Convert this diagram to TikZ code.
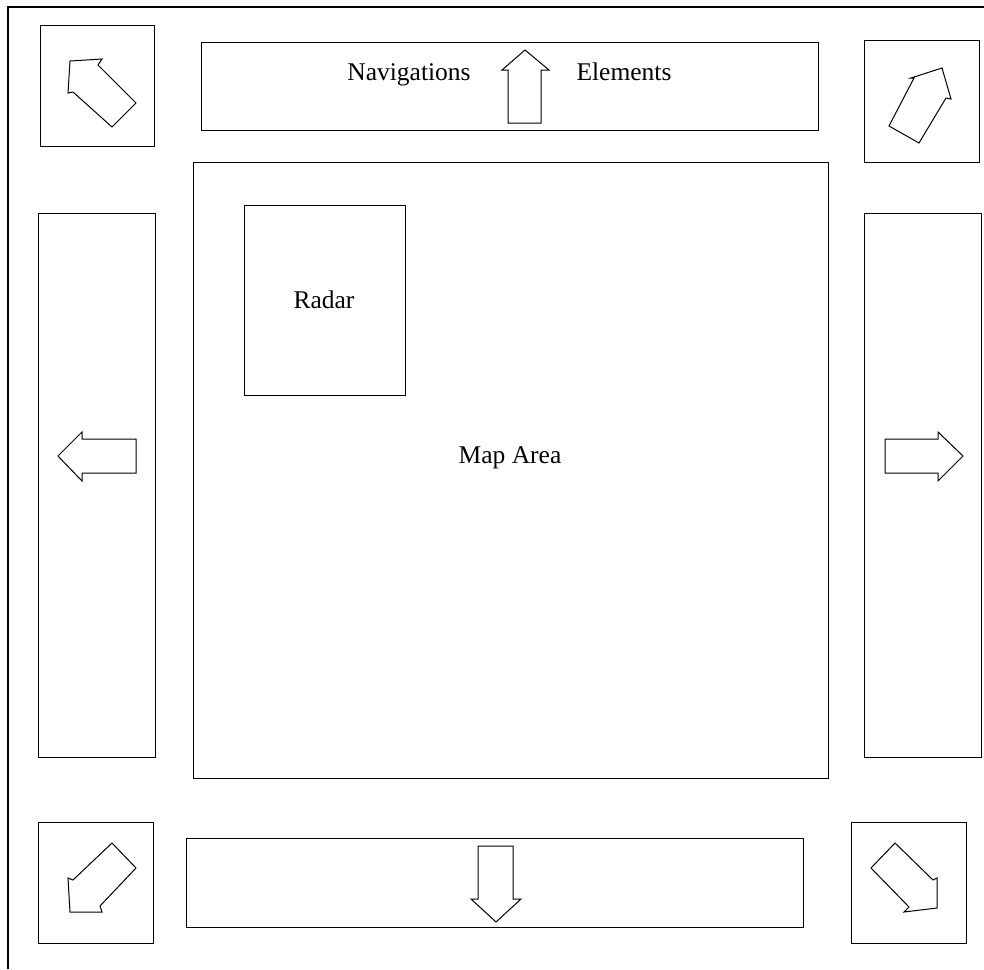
\documentclass[tikz,border=0pt]{standalone}
\usepackage{fontspec}
\setmainfont{Liberation Serif}
\begin{document}
\begin{tikzpicture}[x=1pt,y=-1pt,
  boxnode/.style={draw, line width=1.4pt, inner sep=0pt, anchor=north west, fill=none},
  arrowshape/.style={draw, line width=1pt, line join=miter},
  lbl/.style={font=\fontsize{25.5}{30}\selectfont, inner sep=0pt, anchor=base}]
\useasboundingbox (0,0) rectangle (984,969);
% outer frame (left and top edges visible)
\coordinate (fbl) at (8,969);
\coordinate (ftl) at (8,7);
\coordinate (ftr) at (984,7);
\draw[line width=1.4pt] (fbl) -- (ftl) -- (ftr);
% corner boxes
\node[boxnode, minimum width=114pt, minimum height=121pt] (tl) at (40,25) {};
\node[boxnode, minimum width=115pt, minimum height=122pt] (tr) at (864,40) {};
\node[boxnode, minimum width=115pt, minimum height=121pt] (bl) at (38,822) {};
\node[boxnode, minimum width=115pt, minimum height=121pt] (br) at (851,822) {};
% bars
\node[boxnode, minimum width=617pt, minimum height=88pt] (top) at (201,42) {};
\node[boxnode, minimum width=617pt, minimum height=89pt] (bottom) at (186,838) {};
\node[boxnode, minimum width=117pt, minimum height=544pt] (left) at (38,213) {};
\node[boxnode, minimum width=117pt, minimum height=544pt] (right) at (864,213) {};
% map and radar
\node[boxnode, minimum width=635pt, minimum height=616pt] (map) at (193,162) {};
\node[boxnode, minimum width=161pt, minimum height=190pt] (radar) at (244,205) {};
% labels
\node[lbl] (navtxt) at (409,80) {Navigations};
\node[lbl] (eltxt) at (624,80) {Elements};
\node[lbl] (radartxt) at (324,308) {Radar};
\node[lbl] (maptxt) at (510,463) {Map Area};
% arrows
\draw[arrowshape] (70,61) -- (102,59) -- (98,65) -- (136,103) -- (112,127) -- (73,92) -- (68,93) -- cycle;
\draw[arrowshape] (942,68) -- (951,99) -- (946,98) -- (919,143) -- (889,126) -- (914,78) -- (911,78) -- cycle;
\draw[arrowshape] (112,843) -- (136,868) -- (100,906) -- (102,912) -- (70,912) -- (68,878) -- (73,880) -- cycle;
\draw[arrowshape] (895,843) -- (871,868) -- (909,907) -- (904,912) -- (937,908) -- (937,878) -- (933,880) -- cycle;
\draw[arrowshape] (508,123) -- (508,70) -- (502,70) -- (525,50) -- (549,70) -- (541,70) -- (541,123) -- cycle;
\draw[arrowshape] (478,846) -- (513,846) -- (513,899) -- (521,899) -- (496,922) -- (471,899) -- (478,899) -- cycle;
\draw[arrowshape] (136,439) -- (82,439) -- (82,432) -- (58,456) -- (82,481) -- (82,473) -- (136,473) -- cycle;
\draw[arrowshape] (885,439) -- (938,439) -- (938,432) -- (963,456) -- (938,481) -- (938,473) -- (885,473) -- cycle;
\end{tikzpicture}
\end{document}
